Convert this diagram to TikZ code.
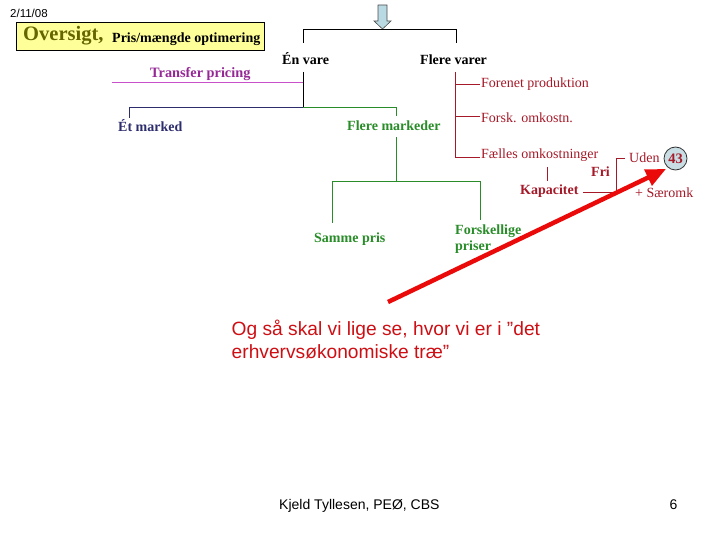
\documentclass[tikz,border=0pt]{standalone}
\usepackage{fontspec}
\setmainfont{Liberation Serif}
\setsansfont{Liberation Sans}
\usetikzlibrary{arrows.meta}
\definecolor{olivet}{RGB}{102,102,0}
\definecolor{boxyel}{RGB}{255,255,153}
\definecolor{magtp}{RGB}{150,40,150}
\definecolor{magline}{RGB}{200,80,200}
\definecolor{navyc}{RGB}{45,45,110}
\definecolor{greenc}{RGB}{40,140,40}
\definecolor{darkred}{RGB}{165,25,40}
\definecolor{arrred}{RGB}{235,10,10}
\definecolor{txtred}{RGB}{205,15,20}
\definecolor{arrblue}{RGB}{185,218,226}
\definecolor{circfill}{RGB}{200,222,228}
\begin{document}
\begin{tikzpicture}[x=1pt,y=-1pt,
  lbl/.style={inner sep=0pt, anchor=base west, font=\bfseries\fontsize{14}{16}\selectfont},
  rlbl/.style={inner sep=0pt, anchor=base west, font=\fontsize{14}{16}\selectfont, text=darkred},
  blk/.style={draw=black, line width=0.8pt},
  mag/.style={draw=magline, line width=0.9pt},
  nav/.style={draw=navyc, line width=0.9pt},
  grn/.style={draw=greenc, line width=0.9pt},
  rd/.style={draw=darkred, line width=0.8pt},
]
\useasboundingbox (0,0) rectangle (720,540);

% date
\node[inner sep=0pt, anchor=base west, font=\sffamily\fontsize{11.5}{13}\selectfont] (date) at (10,18) {2/11/08};

% title box
\node[draw=black, line width=0.8pt, fill=boxyel, minimum width=248pt, minimum height=27.5pt, inner sep=0pt, anchor=north west] (tbox) at (16,22.5) {};
\node[inner sep=0pt, anchor=base west, font=\bfseries\fontsize{20.5}{23}\selectfont, text=olivet] (over) at (23,40.5) {Oversigt,};
\node[inner sep=0pt, anchor=base west, font=\bfseries\fontsize{14}{16}\selectfont] (pris) at (112,43) {Pris/mængde optimering};

% down arrow
\draw[fill=arrblue, draw=black!70, line width=0.6pt] (378,5) -- (387,5) -- (387,21) -- (391,21) -- (382.5,29) -- (374,21) -- (378,21) -- cycle;
\coordinate (arrtip) at (382.5,29);

% top bracket
\coordinate (bl) at (303,29);
\coordinate (br) at (456,29);
\coordinate (bld) at (303,43);
\coordinate (brd) at (456,43);
\draw[blk] (bld) -- (bl) -- (br) -- (brd);

\node[lbl] (envare) at (282,65) {Én vare};
\node[lbl] (flerevarer) at (420,65) {Flere varer};

% En vare subtree
\coordinate (ev1) at (303,72);
\coordinate (ev2) at (303,82.5);
\coordinate (ev3) at (303,107.5);
\draw[blk] (ev1) -- (ev3);
\coordinate (tpl) at (112,82.5);
\draw[mag] (ev2) -- (tpl);
\node[lbl, text=magtp, font=\bfseries\fontsize{14.3}{16}\selectfont] (tp) at (150,78) {Transfer pricing};

\coordinate (eml) at (129,107.5);
\coordinate (emd) at (129,118);
\draw[nav] (ev3) -- (eml) -- (emd);
\node[lbl, text=navyc] (etm) at (118,131.5) {Ét marked};

\coordinate (fmr) at (396,107.5);
\coordinate (fmd) at (396,116);
\draw[grn] (ev3) -- (fmr) -- (fmd);
\node[lbl, text=greenc] (flm) at (347,131) {Flere markeder};

\coordinate (g1) at (396,137);
\coordinate (g2) at (396,181);
\coordinate (gl) at (332,181);
\coordinate (gr) at (480,181);
\coordinate (gld) at (332,223);
\coordinate (grd) at (480,220);
\draw[grn] (g1) -- (g2);
\draw[grn] (gld) -- (gl) -- (gr) -- (grd);
\node[lbl, text=greenc] (samme) at (314,242) {Samme pris};
\node[lbl, text=greenc, align=left, anchor=north west, font=\bfseries\fontsize{14}{16.5}\selectfont] (forsk) at (455,224.5) {Forskellige\\priser};

% Flere varer subtree
\coordinate (r0) at (455.5,72);
\coordinate (r1) at (455.5,84);
\coordinate (r2) at (455.5,116);
\coordinate (r3) at (455.5,157);
\coordinate (r1e) at (480,84);
\coordinate (r2e) at (480,116);
\coordinate (r3e) at (480,157);
\draw[rd] (r0) -- (r3) -- (r3e);
\draw[rd] (r1) -- (r1e);
\draw[rd] (r2) -- (r2e);
\node[rlbl] (foren) at (481,88) {Forenet produktion};
\node[rlbl] (forskom) at (481,123) {Forsk. omkostn.};
\node[rlbl] (faelles) at (481,159) {Fælles omkostninger};

\coordinate (k1) at (547,167);
\coordinate (k2) at (547,181);
\draw[rd] (k1) -- (k2);
\node[lbl, text=darkred] (kap) at (520,195) {Kapacitet};
\node[lbl, text=darkred] (fri) at (591,177) {Fri};

\coordinate (kl) at (583,192);
\coordinate (kb) at (616,192);
\coordinate (kt) at (616,158);
\coordinate (kte) at (625,158);
\draw[rd] (kl) -- (kb) -- (kt) -- (kte);
\node[rlbl] (uden) at (629,163) {Uden};
\node[rlbl] (saer) at (635,197) {+ Særomk};

\node[circle, draw=black!80, line width=0.8pt, fill=circfill, minimum size=23pt, inner sep=0pt, font=\bfseries\fontsize{14.5}{16}\selectfont, text=darkred] (n43) at (675.5,158.5) {43};

% red arrow
\coordinate (atail) at (388,302);
\coordinate (ahead) at (666,169);
\draw[arrred, line width=4.5pt, -{Triangle[length=20pt,width=17pt]}] (atail) -- (ahead);

% big text
\node[inner sep=0pt, anchor=base west, text=txtred, font=\sffamily\fontsize{19.2}{23}\selectfont] (big) at (231.5,335) {Og så skal vi lige se, hvor vi er i ”det};
\node[inner sep=0pt, anchor=base west, text=txtred, font=\sffamily\fontsize{19.2}{23}\selectfont] (big2) at (231.5,358) {erhvervsøkonomiske træ”};

% footer
\node[inner sep=0pt, anchor=base west, font=\sffamily\fontsize{14}{16}\selectfont] (foot) at (279,509) {Kjeld Tyllesen, PEØ, CBS};
\node[inner sep=0pt, anchor=base west, font=\sffamily\fontsize{14}{16}\selectfont] (page) at (669.5,509) {6};
\end{tikzpicture}
\end{document}
